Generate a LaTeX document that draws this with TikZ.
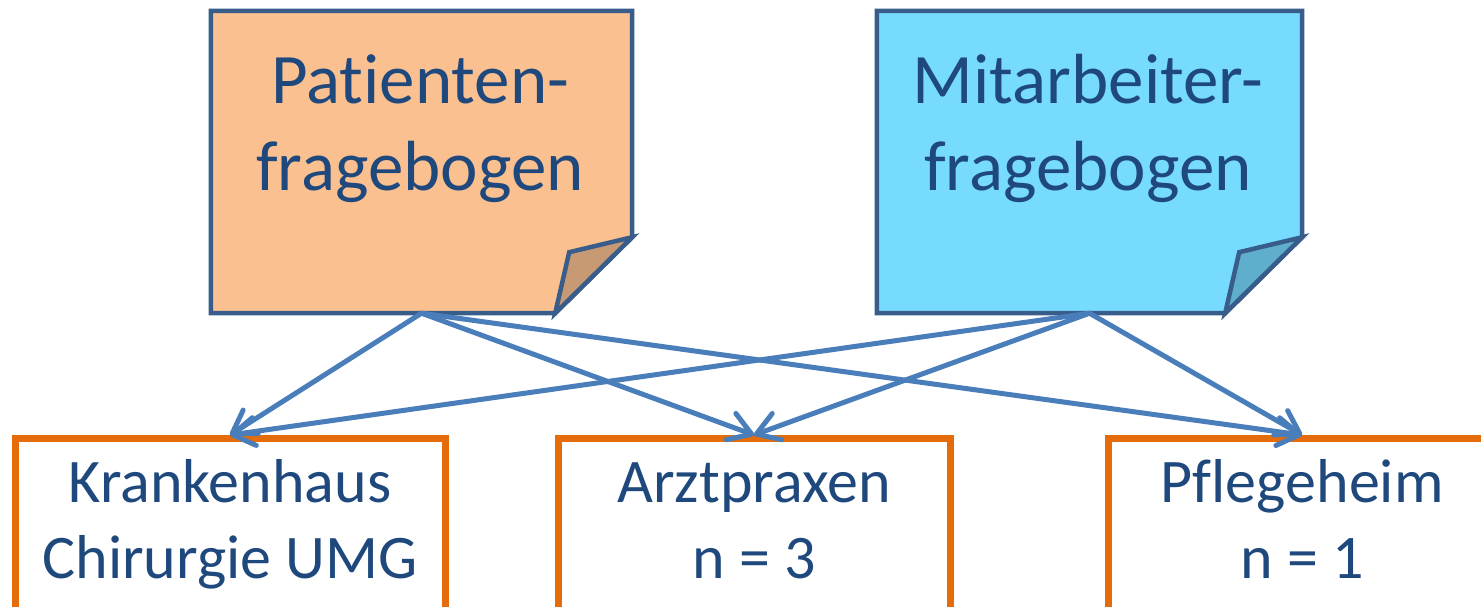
\documentclass[tikz,border=0pt]{standalone}
\usepackage{fontspec}
\setmainfont{Carlito}[Ligatures=NoCommon]
\usetikzlibrary{arrows.meta}
\definecolor{noteborder}{HTML}{385D8A}
\definecolor{notetext}{HTML}{1F497D}
\definecolor{orangefill}{HTML}{FAC090}
\definecolor{orangefold}{HTML}{C89A73}
\definecolor{bluefill}{HTML}{77DAFF}
\definecolor{bluefold}{HTML}{5FAECC}
\definecolor{arrowblue}{HTML}{4A7EBB}
\definecolor{boxorange}{HTML}{E46C0A}
\tikzset{
  notebody/.style={draw=noteborder, line width=4.5pt, line join=miter},
  notelabel/.style={text=notetext, font=\fontsize{71}{87}\selectfont, align=center, inner sep=0pt},
  sitebox/.style={draw=boxorange, line width=7pt, minimum width=430pt, minimum height=200pt, inner sep=0pt, anchor=north},
  sitelabel/.style={text=notetext, font=\fontsize{62}{76}\selectfont, align=center, inner sep=0pt},
  link/.style={draw=arrowblue, line width=5pt, line cap=round, line join=round,
    -{Straight Barb[length=22pt,width=28pt,line cap=round,line join=round]}},
}
\begin{document}
\begin{tikzpicture}[x=1pt,y=-1pt]
\useasboundingbox (0,0) rectangle (1481,606);
\clip (0,0) rectangle (1481,606);

% notes (named anchor nodes)
\node[minimum width=421pt, minimum height=302pt, inner sep=0pt] (pat) at (421.5,162) {};
\node[minimum width=425pt, minimum height=302pt, inner sep=0pt] (mit) at (1089.5,162) {};

\draw[notebody, fill=orangefill] (pat.north west) -- (pat.north east) -- ([yshift=76pt]pat.south east) -- ([xshift=-77pt]pat.south east) -- (pat.south west) -- cycle;
\draw[notebody, fill=orangefold] ([yshift=76pt]pat.south east) -- ([xshift=-63pt,yshift=61pt]pat.south east) -- ([xshift=-77pt]pat.south east) -- cycle;

\draw[notebody, fill=bluefill] (mit.north west) -- (mit.north east) -- ([yshift=76pt]mit.south east) -- ([xshift=-77pt]mit.south east) -- (mit.south west) -- cycle;
\draw[notebody, fill=bluefold] ([yshift=76pt]mit.south east) -- ([xshift=-63pt,yshift=61pt]mit.south east) -- ([xshift=-77pt]mit.south east) -- cycle;

\node[notelabel, anchor=base] (pattxt) at (420,190) {Patienten-\\fragebogen};
\node[notelabel, anchor=base] (mittxt) at (1088,190) {Mitarbeiter-\\fragebogen};

% site boxes
\node[sitebox, minimum width=430pt] (kh) at (230,435) {};
\node[sitebox, minimum width=392pt] (az) at (754,435) {};
\node[sitebox, minimum width=388pt] (ph) at (1302,435) {};

\node[sitelabel, anchor=base] (khtxt) at (230,578) {Krankenhaus\\Chirurgie UMG};
\node[sitelabel, anchor=base] (aztxt) at (754,578) {Arztpraxen\\n = 3};
\node[sitelabel, anchor=base] (phtxt) at (1302,578) {Pflegeheim\\n = 1};

% connectors
\draw[link] (pat.south) -- (kh.north);
\draw[link] (pat.south) -- (az.north);
\draw[link] (pat.south) -- (ph.north);
\draw[link] (mit.south) -- (kh.north);
\draw[link] (mit.south) -- (az.north);
\draw[link] (mit.south) -- (ph.north);
\end{tikzpicture}
\end{document}
